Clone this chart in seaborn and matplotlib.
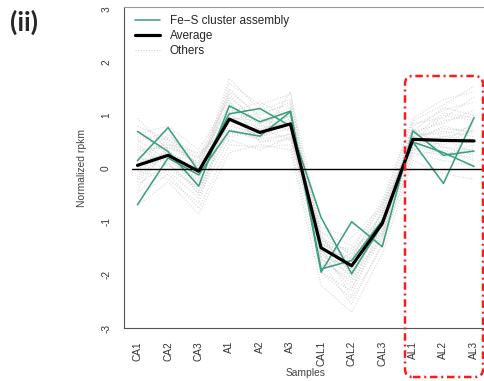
import numpy as np
import pandas as pd
import matplotlib
matplotlib.use("Agg")
import matplotlib.pyplot as plt
from matplotlib.lines import Line2D
from matplotlib.patches import FancyBboxPatch
import seaborn as sns

samples = ["CA1", "CA2", "CA3", "A1", "A2", "A3",
           "CAL1", "CAL2", "CAL3", "AL1", "AL2", "AL3"]

# Normalized rpkm of the Fe-S cluster assembly genes
fes_genes = {
    "fes_a": [0.15, 0.77, -0.05, 1.03, 1.13, 0.80, -0.92, -1.98, -1.05, 0.50, -0.28, 0.96],
    "fes_b": [0.70, 0.32, -0.33, 1.18, 0.88, 1.08, -1.95, -1.00, -1.47, 0.71, 0.25, 0.33],
    "fes_c": [-0.68, 0.20, -0.12, 0.71, 0.61, 1.07, -1.89, -1.73, -0.98, 0.50, 0.30, 0.04],
}

# Average profile of the cluster
average = [0.06, 0.25, -0.05, 0.93, 0.68, 0.84, -1.49, -1.83, -1.03, 0.55, 0.53, 0.52]

# Remaining genes of the cluster
others = [
    [0.35, 0.40, 0.10, 1.20, 0.85, 1.05, -1.30, -1.60, -0.85, 0.60, 0.75, 0.70],
    [-0.30, 0.10, -0.40, 0.70, 0.55, 0.65, -1.70, -2.10, -1.20, 0.45, 0.40, 0.35],
    [0.80, 0.55, 0.20, 1.45, 1.00, 1.25, -1.20, -1.45, -0.75, 0.80, 1.10, 1.25],
    [-0.55, -0.10, -0.75, 0.45, 0.40, 0.45, -1.95, -2.45, -1.45, 0.30, 0.15, 0.05],
    [0.10, 0.30, 0.00, 1.00, 0.75, 0.90, -1.55, -1.95, -1.10, 0.55, 0.60, 0.55],
    [0.55, 0.15, -0.20, 1.60, 1.20, 1.40, -1.10, -1.30, -0.70, 0.95, 1.30, 1.45],
    [-0.15, 0.60, 0.25, 0.85, 0.60, 0.75, -1.60, -2.25, -1.30, 0.40, 0.30, 0.20],
    [0.25, -0.05, -0.55, 1.10, 0.95, 0.70, -1.40, -1.75, -0.90, 0.65, 0.90, 1.00],
    [-0.40, 0.45, 0.10, 0.60, 0.70, 1.00, -1.85, -1.60, -1.25, 0.35, 0.50, 0.85],
    [0.65, 0.80, 0.35, 1.30, 0.50, 0.55, -1.25, -2.00, -1.00, 0.75, 0.20, 0.40],
    [0.00, 0.20, -0.30, 0.95, 0.90, 1.15, -1.50, -1.70, -0.95, 0.50, 1.00, 0.90],
    [0.95, 0.35, -0.10, 1.70, 1.10, 1.30, -1.35, -1.55, -0.60, 0.90, 1.20, 1.55],
    [-0.70, -0.25, -0.85, 0.30, 0.45, 0.35, -2.20, -2.70, -1.60, 0.15, -0.10, -0.20],
    [0.20, 0.50, 0.05, 0.80, 0.65, 0.95, -1.45, -1.90, -1.15, 0.60, 0.70, 0.60],
    [0.40, 0.05, -0.15, 1.15, 0.80, 0.75, -1.65, -1.85, -0.80, 0.55, 0.45, 0.75],
    [-0.25, 0.35, -0.50, 0.55, 0.35, 0.60, -1.75, -2.55, -1.40, 0.25, 0.35, 0.15],
    [0.15, 0.25, 0.15, 1.35, 0.85, 1.10, -1.20, -1.65, -0.85, 0.70, 0.85, 1.10],
    [0.50, 0.70, -0.05, 0.95, 0.60, 0.85, -1.55, -2.05, -1.05, 0.45, 0.55, 0.30],
    [-0.05, -0.20, -0.65, 1.05, 1.25, 0.95, -1.40, -1.80, -1.20, 0.65, 0.65, 0.80],
    [0.30, 0.45, 0.30, 0.75, 0.55, 1.45, -1.95, -2.30, -0.70, 0.50, 0.80, 0.65],
    [0.70, 0.25, -0.25, 1.50, 0.95, 0.80, -1.30, -1.95, -1.35, 0.85, 0.95, 1.35],
    [-0.45, 0.00, -0.35, 0.65, 0.75, 0.55, -1.60, -2.00, -0.95, 0.35, 0.25, 0.45],
    [0.05, 0.65, 0.05, 1.25, 0.70, 0.90, -1.45, -1.50, -1.10, 0.60, 1.05, 0.95],
    [0.45, 0.10, -0.45, 0.90, 1.05, 1.20, -1.70, -2.15, -1.25, 0.75, 0.40, 0.25],
    [-0.20, 0.40, 0.20, 1.05, 0.50, 0.65, -1.35, -1.70, -0.65, 0.40, 0.60, 0.70],
    [0.60, 0.55, 0.05, 1.40, 0.80, 1.00, -1.50, -2.40, -1.00, 0.70, 1.15, 1.00],
]

y_ticks = [-3, -2, -1, 0, 1, 2, 3]

GREEN = "#3ba17c"
GREY = "#d2d2d2"


def to_long(rows, names):
    recs = []
    for name, vals in zip(names, rows):
        for i, v in enumerate(vals):
            recs.append({"gene": name, "pos": i + 1, "rpkm": v})
    return pd.DataFrame(recs)


df_others = to_long(others, [f"o{i}" for i in range(len(others))])
df_fes = to_long(list(fes_genes.values()), list(fes_genes.keys()))
df_avg = to_long([average], ["average"])

sns.set_style("white")
plt.rcParams["font.family"] = ["Liberation Sans", "DejaVu Sans"]

fig = plt.figure(figsize=(4.85, 3.81), dpi=100)
ax = fig.add_axes([0.2557, 0.1391, 0.7495, 0.8425])

sns.lineplot(data=df_others, x="pos", y="rpkm", units="gene", estimator=None,
             color=GREY, lw=0.8, linestyle=(0, (1, 1.4)), alpha=0.85,
             legend=False, ax=ax)
sns.lineplot(data=df_fes, x="pos", y="rpkm", units="gene", estimator=None,
             color=GREEN, lw=1.15, legend=False, ax=ax)
sns.lineplot(data=df_avg, x="pos", y="rpkm", units="gene", estimator=None,
             color="black", lw=2.3, legend=False, ax=ax)

ax.axhline(0, xmin=0.021, xmax=1, color="black", lw=1.0, zorder=4)

ax.set_xlim(0.56, 12.44)
ax.set_ylim(-3.0, 3.04)
ax.set_xticks(range(1, len(samples) + 1))
ax.set_xticklabels(samples, rotation=90, fontsize=7.3, color="#333333")
ax.set_yticks(y_ticks)
ax.set_yticklabels([str(t) for t in y_ticks], fontsize=7.3, color="#333333")
for lab in ax.get_yticklabels():
    lab.set_rotation(90)
    lab.set_va("center")
    lab.set_ha("right")

ax.tick_params(axis="both", which="major", direction="out", length=4.3,
               width=0.8, color="#555555")
ax.tick_params(axis="x", pad=5)
ax.tick_params(axis="y", pad=5.0)

for side in ["left", "bottom"]:
    ax.spines[side].set_color("#555555")
    ax.spines[side].set_linewidth(0.8)
ax.spines["top"].set_color("#999999")
ax.spines["top"].set_linewidth(0.8)
ax.spines["right"].set_visible(False)

ax.set_xlabel("Samples", fontsize=7.4, color="#444444", va="center")
ax.set_ylabel("Normalized rpkm", fontsize=7.4, color="#444444", va="center")
ax.xaxis.set_label_coords(0.5, -0.140)
ax.yaxis.set_label_coords(-0.1155, 0.5)

handles = [
    Line2D([], [], color=GREEN, lw=1.15),
    Line2D([], [], color="black", lw=2.3),
    Line2D([], [], color=GREY, lw=0.8, linestyle=(0, (1, 1.4))),
]
ax.legend(handles, ["Fe\u2212S cluster assembly", "Average", "Others"],
          loc="upper left", bbox_to_anchor=(135 / 485, 1 - 15 / 381),
          bbox_transform=fig.transFigure, frameon=False, fontsize=8.5,
          borderpad=0, borderaxespad=0, handlelength=2.1, handletextpad=0.85,
          labelspacing=0.25)

fig.text(24 / 485, 1 - 22 / 381, "(ii)", fontsize=19, fontweight="bold",
         family=["Lato", "DejaVu Sans"], ha="center", va="center")

# dash-dot rounded frame around the AL samples
frame = FancyBboxPatch((4.05, 0.04), 0.78, 3.01,
                       boxstyle="round,pad=0,rounding_size=0.08",
                       transform=fig.dpi_scale_trans, fill=False,
                       edgecolor="#ff1a1a", lw=1.8,
                       linestyle=(0, (3, 1.5, 0.8, 1.5)), zorder=10)
fig.add_artist(frame)

fig.savefig("out.png", dpi=100)
